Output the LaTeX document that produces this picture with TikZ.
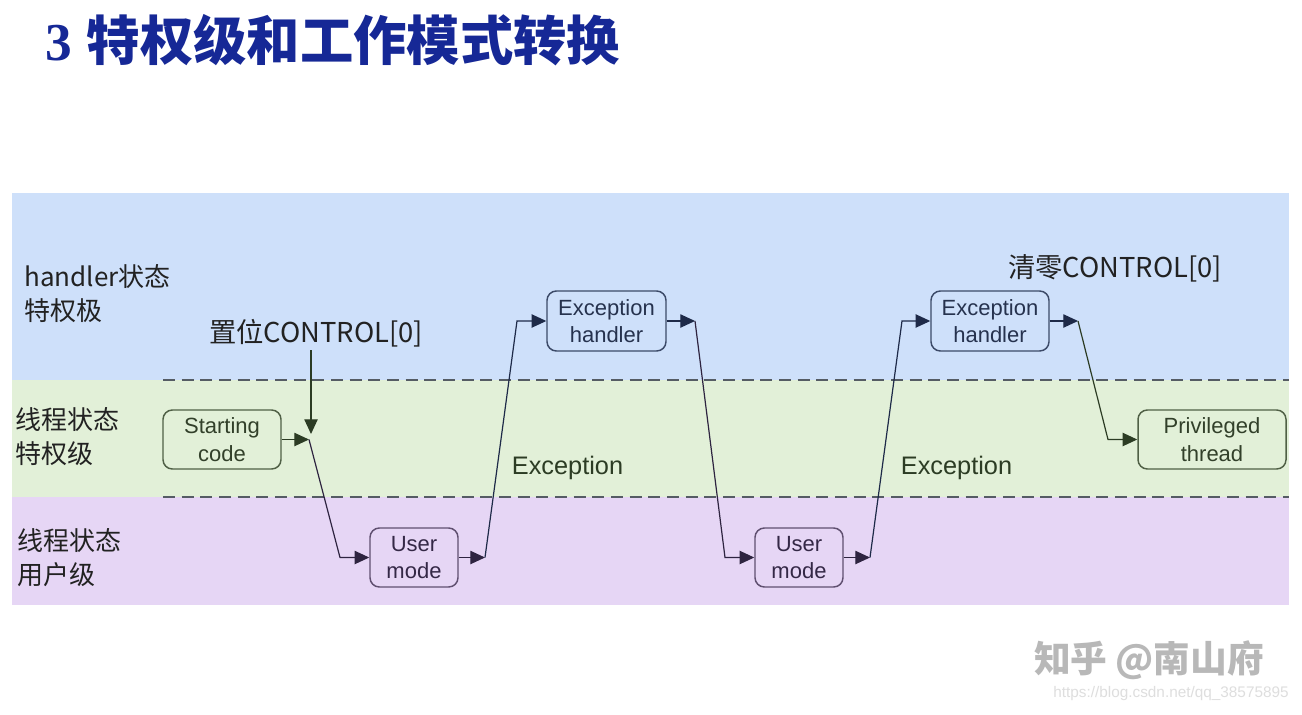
\documentclass[tikz,border=0pt]{standalone}
\usepackage{fontspec}
\setmainfont{Liberation Sans}
\newfontfamily\cjk{Noto Sans CJK SC}
\newfontfamily\tserif{Liberation Serif}
\usetikzlibrary{arrows.meta}
\definecolor{bandblue}{RGB}{206,224,250}
\definecolor{bandgreen}{RGB}{226,240,216}
\definecolor{bandpurple}{RGB}{230,214,245}
\definecolor{titleblue}{RGB}{22,40,150}
\definecolor{dashcol}{RGB}{85,92,100}
\definecolor{gstroke}{RGB}{80,96,70}
\definecolor{pstroke}{RGB}{96,80,112}
\definecolor{bstroke}{RGB}{60,74,104}
\definecolor{gtext}{RGB}{50,64,42}
\definecolor{ptext}{RGB}{52,40,70}
\definecolor{btext}{RGB}{38,50,78}
\definecolor{garrow}{RGB}{44,60,36}
\definecolor{parrow}{RGB}{46,36,64}
\definecolor{barrow}{RGB}{30,42,72}
\definecolor{labeltext}{RGB}{34,34,34}
\tikzset{
  modebox/.style={draw, rounded corners=7pt, line width=1.1pt, align=center,
    inner sep=0pt, font=\fontsize{16.5}{20.5}\selectfont},
  gbox/.style={modebox, draw=gstroke, fill=bandgreen, text=gtext},
  pbox/.style={modebox, draw=pstroke, fill=bandpurple, text=ptext},
  bbox/.style={modebox, draw=bstroke, fill=bandblue, text=btext},
  conn/.style={line width=0.9pt, -{Triangle[length=11pt,width=10pt]}},
  lanelabel/.style={anchor=west, align=left, text=labeltext,
    font=\cjk\fontsize{19.5}{25.5}\selectfont, inner sep=0pt},
  ctllabel/.style={text=labeltext, font=\cjk\fontsize{20.5}{24}\selectfont, inner sep=0pt},
  exclabel/.style={text=garrow, font=\fontsize{19}{22}\selectfont, inner sep=0pt},
  sepline/.style={draw=dashcol, line width=1.5pt, dash pattern=on 9pt off 5pt}
}
\begin{document}
\begin{tikzpicture}[x=0.75pt,y=-0.75pt]
\useasboundingbox (0,0) rectangle (1302,714);
\fill[white] (0,0) rectangle (1302,714);
% bands
\fill[bandblue] (12,193) rectangle (1289,380);
\fill[bandgreen] (12,380) rectangle (1289,497);
\fill[bandpurple] (12,497) rectangle (1289,605);
\draw[sepline] (163,380) -- (1289,380);
\draw[sepline] (163,497) -- (1289,497);
% title
\node[anchor=west, text=titleblue, inner sep=0pt] (title) at (45,40)
  {\fontsize{40}{44}\selectfont{\tserif\bfseries 3} {\cjk\bfseries 特权级和工作模式转换}};
% lane labels
\node[lanelabel] (lab1) at (24,294) {handler状态\\特权极};
\node[lanelabel] (lab2) at (15,436.5) {线程状态\\特权级};
\node[lanelabel] (lab3) at (17,557.5) {线程状态\\用户级};
% boxes
\node[gbox, minimum width=88.5pt, minimum height=44.25pt] (sc) at (222,439.5) {Starting\\code};
\node[pbox, minimum width=66pt, minimum height=44.25pt] (um1) at (414,557.5) {User\\mode};
\node[bbox, minimum width=89.25pt, minimum height=45pt] (eh1) at (606.5,321) {Exception\\handler};
\node[pbox, minimum width=66pt, minimum height=44.25pt] (um2) at (799,557.5) {User\\mode};
\node[bbox, minimum width=88.5pt, minimum height=45pt] (eh2) at (990,321) {Exception\\handler};
\node[gbox, minimum width=111pt, minimum height=44.25pt] (pt) at (1212,439.5) {Privileged\\thread};
% text labels
\node[ctllabel] (ctl1) at (316,333) {置位CONTROL[0]};
\node[ctllabel] (ctl2) at (1115,268) {清零CONTROL[0]};
\node[exclabel] (exc1) at (567.5,468) {Exception};
\node[exclabel] (exc2) at (956.5,468) {Exception};
% junction coordinates
\coordinate (j1) at (309,439.5);
\coordinate (b1) at (340,557.5);
\coordinate (j2) at (485,557.5);
\coordinate (b2) at (517,321);
\coordinate (j3) at (695,321);
\coordinate (b3) at (725,557.5);
\coordinate (j4) at (870,557.5);
\coordinate (b4) at (902,321);
\coordinate (j5) at (1078,321);
\coordinate (b5) at (1108,439.5);
\coordinate (vt) at (311,434);
\coordinate (vs) at (311,350);
% connectors
\draw[conn, draw=garrow] (vs) -- (vt);
\draw[conn, draw=garrow] (sc.east) -- (j1);
\draw[conn, draw=parrow] (j1) -- (b1) -- (um1.west);
\draw[conn, draw=parrow] (um1.east) -- (j2);
\draw[conn, draw=barrow] (j2) -- (b2) -- (eh1.west);
\draw[conn, draw=barrow] (eh1.east) -- (j3);
\draw[conn, draw=parrow] (j3) -- (b3) -- (um2.west);
\draw[conn, draw=parrow] (um2.east) -- (j4);
\draw[conn, draw=barrow] (j4) -- (b4) -- (eh2.west);
\draw[conn, draw=barrow] (eh2.east) -- (j5);
\draw[conn, draw=garrow] (j5) -- (b5) -- (pt.west);
% watermarks
\node[text=black!28, font=\cjk\bfseries\fontsize{27.5}{30}\selectfont, inner sep=0pt] (wm1) at (1149,660) {知乎 @南山府};
\node[text=black!13, font=\fontsize{11.5}{14}\selectfont, inner sep=0pt] (wm2) at (1171,694) {https://blog.csdn.net/qq\_38575895};
\end{tikzpicture}
\end{document}
